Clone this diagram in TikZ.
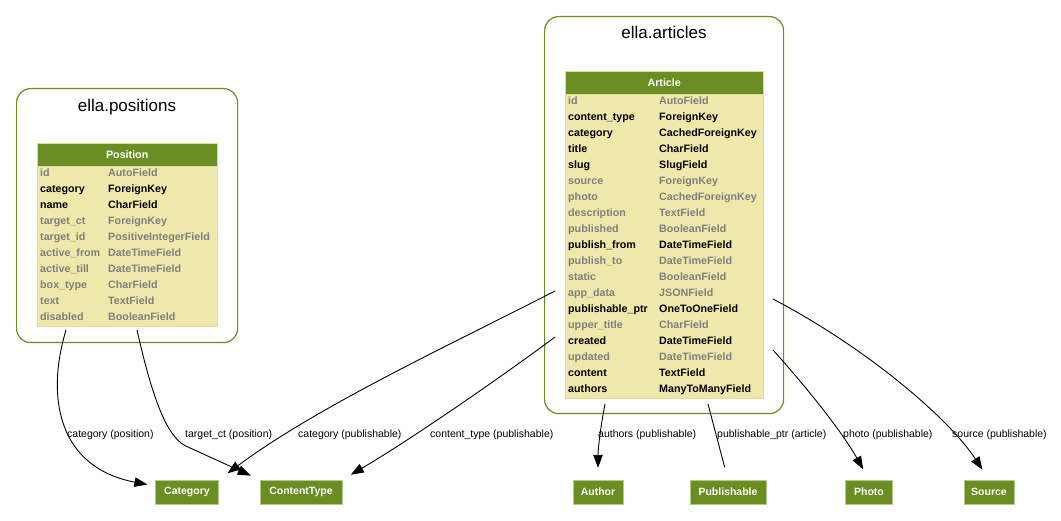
\documentclass[tikz,border=0pt]{standalone}
\usepackage{fontspec}
\setmainfont{Liberation Sans}
\usetikzlibrary{positioning,arrows.meta}
\definecolor{djGreen}{HTML}{6B8E23}
\definecolor{djGold}{HTML}{EEE8AA}
\definecolor{djGoldDk}{HTML}{E2DA9A}
\definecolor{djGray}{HTML}{7F7F7F}
\definecolor{djBoxLine}{HTML}{B5C98A}
\tikzset{
  appbox/.style={draw=djGreen, line width=1.2pt, rounded corners=14pt,
                 anchor=north west, inner sep=0pt},
  apptitle/.style={anchor=base, inner sep=0pt, font=\fontsize{17}{19}\selectfont},
  tblhead/.style={fill=djGreen, draw=djGoldDk, anchor=north west, inner sep=0pt,
                  text=white, font=\fontsize{10.7}{12}\selectfont\bfseries},
  tblbody/.style={fill=djGold, draw=djGoldDk, anchor=north west, inner sep=0pt},
  fieldtxt/.style={anchor=base west, inner sep=0pt,
                   font=\fontsize{10.7}{12}\selectfont\bfseries},
  modelnode/.style={fill=djGreen, draw=djBoxLine, text=white, minimum height=24pt,
                    inner xsep=0pt, font=\fontsize{10.5}{12}\selectfont\bfseries},
  fkarrow/.style={-{Triangle[length=13pt, width=9.5pt]}, line width=0.9pt},
  plainline/.style={line width=0.9pt},
  edgelabel/.style={anchor=base west, inner sep=0pt, font=\fontsize{10.5}{12}\selectfont},
}
\begin{document}
\begin{tikzpicture}[x=1pt, y=-1pt]
\useasboundingbox (0,0) rectangle (1061,521);
%% App: ella.positions
\node[appbox, minimum width=221pt, minimum height=254pt] (posapp) at (16,88) {};
\node[apptitle] (postitle) at (127,112) {ella.positions};
\node[tblhead, minimum width=180pt, minimum height=23pt] (poshead) at (37,143) {Position};
\node[tblbody, minimum width=180pt, minimum height=160pt] (posbody) at (37,166) {};
\foreach \fname/\ftype/\fcol [count=\i from 0] in {id/AutoField/djGray,
    category/ForeignKey/black, name/CharField/black, target\_ct/ForeignKey/djGray,
    target\_id/PositiveIntegerField/djGray, active\_from/DateTimeField/djGray,
    active\_till/DateTimeField/djGray, box\_type/CharField/djGray,
    text/TextField/djGray, disabled/BooleanField/djGray}{
  \node[fieldtxt, text=\fcol] (posname\i) at (40,177+16*\i) {\fname};
  \node[fieldtxt, text=\fcol] (postype\i) at (108,177+16*\i) {\ftype};
}
%% App: ella.articles
\node[appbox, minimum width=239pt, minimum height=397pt] (artapp) at (544,16) {};
\node[apptitle] (arttitle) at (664,39) {ella.articles};
\node[tblhead, minimum width=198pt, minimum height=23pt] (arthead) at (565,71) {Article};
\node[tblbody, minimum width=198pt, minimum height=304pt] (artbody) at (565,94) {};
\foreach \fname/\ftype/\fcol [count=\i from 0] in {id/AutoField/djGray,
    content\_type/ForeignKey/black, category/CachedForeignKey/black,
    title/CharField/black, slug/SlugField/black, source/ForeignKey/djGray,
    photo/CachedForeignKey/djGray, description/TextField/djGray,
    published/BooleanField/djGray, publish\_from/DateTimeField/black,
    publish\_to/DateTimeField/djGray, static/BooleanField/djGray,
    app\_data/JSONField/djGray, publishable\_ptr/OneToOneField/black,
    upper\_title/CharField/djGray, created/DateTimeField/black,
    updated/DateTimeField/djGray, content/TextField/black,
    authors/ManyToManyField/black}{
  \node[fieldtxt, text=\fcol] (artname\i) at (568,105+16*\i) {\fname};
  \node[fieldtxt, text=\fcol] (arttype\i) at (659,105+16*\i) {\ftype};
}
%% Related models
\node[modelnode, minimum width=63pt] (category) at (187,492) {Category};
\node[modelnode, minimum width=82pt] (contenttype) at (301,492) {ContentType};
\node[modelnode, minimum width=50pt] (author) at (598,492) {Author};
\node[modelnode, minimum width=76pt] (publishable) at (728,492) {Publishable};
\node[modelnode, minimum width=47pt] (photo) at (869,492) {Photo};
\node[modelnode, minimum width=50pt] (source) at (989,492) {Source};
%% Edge ends on the tables
\coordinate (poscatout) at (66,330);
\coordinate (postctout) at (137,330);
\coordinate (artcatout) at (555,291);
\coordinate (artctout) at (555,337);
\coordinate (artauthout) at (605,404);
\coordinate (artptrout) at (708,404);
\coordinate (artphotoout) at (773,350);
\coordinate (artsrcout) at (773,299);
%% Relations
\draw[fkarrow, shorten >=8pt] (poscatout) .. controls (45,400) and (60,468) .. (category);
\draw[fkarrow, shorten >=10pt] (postctout) .. controls (155,410) and (170,440) .. (188,447)
  -- (contenttype.north west);
\draw[fkarrow, shorten >=11pt] (artcatout) .. controls (450,345) and (320,405) .. (category.north east);
\draw[fkarrow, shorten >=10pt] (artctout) .. controls (500,378) and (410,440) .. (contenttype.north east);
\draw[fkarrow, shorten >=12pt] (artauthout) .. controls (600,430) and (598,450) .. (author.north);
\draw[plainline, shorten >=13pt] (artptrout) -- (publishable.north);
\draw[fkarrow, shorten >=12pt] (artphotoout) .. controls (800,380) and (840,428) .. (photo.north);
\draw[fkarrow, shorten >=12pt] (artsrcout) .. controls (870,350) and (950,420) .. (source.north);
%% Relation labels
\node[edgelabel] (lblposcat) at (67,438) {category (position)};
\node[edgelabel] (lblpostct) at (185,438) {target\_ct (position)};
\node[edgelabel] (lblartcat) at (298,438) {category (publishable)};
\node[edgelabel] (lblartct) at (430,438) {content\_type (publishable)};
\node[edgelabel] (lblartauth) at (598,438) {authors (publishable)};
\node[edgelabel] (lblartptr) at (717,438) {publishable\_ptr (article)};
\node[edgelabel] (lblartphoto) at (843,438) {photo (publishable)};
\node[edgelabel] (lblartsrc) at (952,438) {source (publishable)};
\end{tikzpicture}
\end{document}
